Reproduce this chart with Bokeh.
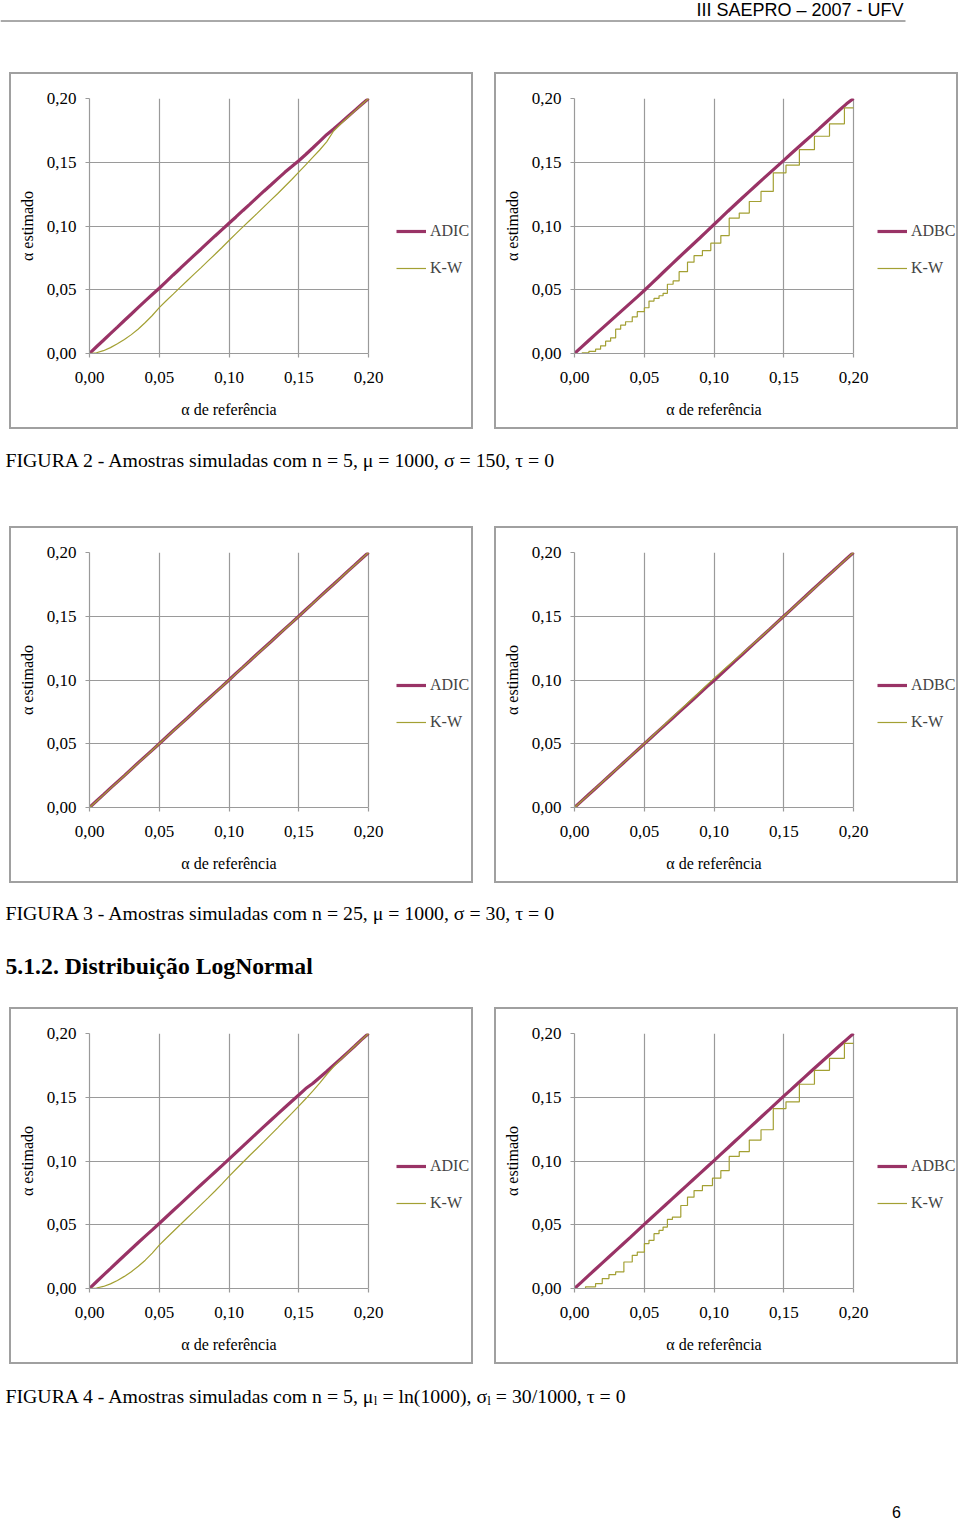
import glob
from bokeh.plotting import figure
from bokeh.models import (Range1d, FixedTicker, CustomJSTickFormatter, Legend,
                          LegendItem, Label, Spacer)
from bokeh.layouts import column, row
from bokeh.embed import file_html
from bokeh.resources import INLINE

# ---------------- data ----------------
TICKS = [0.00, 0.05, 0.10, 0.15, 0.20]

alpha_ref = [0.000, 0.005, 0.010, 0.015, 0.020, 0.025, 0.030, 0.035, 0.040, 0.045,
             0.050, 0.055, 0.060, 0.065, 0.070, 0.075, 0.080, 0.085, 0.090, 0.095,
             0.100, 0.105, 0.110, 0.115, 0.120, 0.125, 0.130, 0.135, 0.140, 0.145,
             0.150, 0.155, 0.160, 0.165, 0.170, 0.175, 0.180, 0.185, 0.190, 0.195,
             0.200]

# FIGURA 2 (n = 5, normal)
fig2_adic = [0.0000, 0.0053, 0.0104, 0.0156, 0.0207, 0.0259, 0.0310, 0.0362, 0.0413, 0.0463,
             0.0512, 0.0564, 0.0616, 0.0667, 0.0719, 0.0770, 0.0820, 0.0871, 0.0922, 0.0972,
             0.1022, 0.1071, 0.1122, 0.1172, 0.1223, 0.1273, 0.1322, 0.1372, 0.1421, 0.1466,
             0.1512, 0.1561, 0.1612, 0.1664, 0.1716, 0.1761, 0.1809, 0.1857, 0.1905, 0.1953,
             0.2000]
fig2_kw_a = [0.0000, 0.0006, 0.0022, 0.0046, 0.0076, 0.0110, 0.0148, 0.0192, 0.0243, 0.0298,
             0.0360, 0.0414, 0.0466, 0.0519, 0.0571, 0.0623, 0.0674, 0.0726, 0.0778, 0.0831,
             0.0886, 0.0940, 0.0993, 0.1045, 0.1097, 0.1150, 0.1203, 0.1255, 0.1310, 0.1365,
             0.1422, 0.1480, 0.1538, 0.1596, 0.1660, 0.1745, 0.1800, 0.1851, 0.1901, 0.1951,
             0.2000]
fig2_adbc = [0.0000, 0.0050, 0.0100, 0.0150, 0.0199, 0.0248, 0.0297, 0.0346, 0.0395, 0.0444,
             0.0494, 0.0546, 0.0598, 0.0651, 0.0703, 0.0755, 0.0806, 0.0857, 0.0908, 0.0960,
             0.1012, 0.1064, 0.1116, 0.1167, 0.1218, 0.1268, 0.1318, 0.1368, 0.1417, 0.1466,
             0.1515, 0.1565, 0.1614, 0.1663, 0.1711, 0.1760, 0.1810, 0.1860, 0.1910, 0.1958,
             0.2000]
fig2_kw_b_x = [0.0000, 0.0055, 0.0103, 0.0151, 0.0187, 0.0223, 0.0259, 0.0295, 0.0331, 0.0366,
               0.0414, 0.0450, 0.0501, 0.0534, 0.0570, 0.0606, 0.0635, 0.0666, 0.0707, 0.0750,
               0.0810, 0.0857, 0.0917, 0.0977, 0.1049, 0.1109, 0.1181, 0.1253, 0.1337, 0.1425,
               0.1516, 0.1612, 0.1720, 0.1828, 0.1935, 0.2000]
fig2_kw_b_y = [0.0000, 0.0005, 0.0016, 0.0034, 0.0060, 0.0097, 0.0123, 0.0191, 0.0223, 0.0249,
               0.0288, 0.0328, 0.0359, 0.0411, 0.0432, 0.0453, 0.0472, 0.0543, 0.0569, 0.0642,
               0.0716, 0.0768, 0.0807, 0.0865, 0.0925, 0.1061, 0.1101, 0.1192, 0.1271, 0.1416,
               0.1477, 0.1599, 0.1704, 0.1801, 0.1927, 0.1927]

# FIGURA 3 (n = 25, normal)
fig3_adic = [0.0000, 0.0051, 0.0101, 0.0152, 0.0201, 0.0250, 0.0301, 0.0352, 0.0401, 0.0450,
             0.0500, 0.0551, 0.0602, 0.0651, 0.0700, 0.0751, 0.0802, 0.0851, 0.0901, 0.0950,
             0.1000, 0.1052, 0.1101, 0.1151, 0.1202, 0.1251, 0.1300, 0.1351, 0.1401, 0.1450,
             0.1500, 0.1551, 0.1601, 0.1652, 0.1702, 0.1751, 0.1801, 0.1852, 0.1901, 0.1951,
             0.2000]
fig3_kw_a = [0.0000, 0.0049, 0.0099, 0.0150, 0.0199, 0.0249, 0.0300, 0.0350, 0.0399, 0.0449,
             0.0500, 0.0550, 0.0600, 0.0649, 0.0699, 0.0750, 0.0800, 0.0850, 0.0899, 0.0949,
             0.0999, 0.1050, 0.1100, 0.1150, 0.1200, 0.1249, 0.1299, 0.1350, 0.1400, 0.1449,
             0.1499, 0.1550, 0.1600, 0.1650, 0.1701, 0.1750, 0.1800, 0.1851, 0.1900, 0.1950,
             0.2000]
fig3_adbc = [0.0000, 0.0050, 0.0100, 0.0149, 0.0199, 0.0249, 0.0299, 0.0349, 0.0399, 0.0449,
             0.0499, 0.0549, 0.0599, 0.0648, 0.0698, 0.0748, 0.0797, 0.0847, 0.0897, 0.0948,
             0.0996, 0.1046, 0.1097, 0.1148, 0.1198, 0.1249, 0.1299, 0.1349, 0.1399, 0.1450,
             0.1500, 0.1550, 0.1601, 0.1651, 0.1702, 0.1752, 0.1802, 0.1851, 0.1901, 0.1951,
             0.2000]
fig3_kw_b = [0.0000, 0.0049, 0.0099, 0.0150, 0.0200, 0.0250, 0.0300, 0.0350, 0.0400, 0.0450,
             0.0501, 0.0551, 0.0603, 0.0655, 0.0706, 0.0758, 0.0808, 0.0859, 0.0910, 0.0962,
             0.1013, 0.1062, 0.1110, 0.1158, 0.1206, 0.1254, 0.1302, 0.1351, 0.1401, 0.1450,
             0.1500, 0.1550, 0.1600, 0.1650, 0.1700, 0.1750, 0.1800, 0.1850, 0.1900, 0.1950,
             0.2000]

# FIGURA 4 (n = 5, lognormal)
fig4_adic = [0.0000, 0.0053, 0.0105, 0.0156, 0.0208, 0.0259, 0.0310, 0.0361, 0.0411, 0.0460,
             0.0510, 0.0561, 0.0612, 0.0662, 0.0713, 0.0764, 0.0814, 0.0864, 0.0914, 0.0964,
             0.1015, 0.1066, 0.1117, 0.1168, 0.1219, 0.1270, 0.1320, 0.1370, 0.1420, 0.1469,
             0.1518, 0.1568, 0.1608, 0.1655, 0.1702, 0.1752, 0.1800, 0.1850, 0.1900, 0.1952,
             0.2000]
fig4_kw_a = [0.0000, 0.0004, 0.0016, 0.0036, 0.0063, 0.0095, 0.0132, 0.0174, 0.0222, 0.0278,
             0.0340, 0.0394, 0.0447, 0.0500, 0.0553, 0.0605, 0.0658, 0.0711, 0.0765, 0.0820,
             0.0880, 0.0935, 0.0990, 0.1045, 0.1098, 0.1152, 0.1207, 0.1262, 0.1318, 0.1373,
             0.1430, 0.1488, 0.1548, 0.1610, 0.1678, 0.1740, 0.1795, 0.1848, 0.1900, 0.1950,
             0.2000]
fig4_adbc = [0.0000, 0.0050, 0.0101, 0.0151, 0.0201, 0.0251, 0.0301, 0.0351, 0.0401, 0.0452,
             0.0503, 0.0553, 0.0603, 0.0653, 0.0703, 0.0753, 0.0803, 0.0853, 0.0903, 0.0953,
             0.1003, 0.1054, 0.1104, 0.1155, 0.1205, 0.1256, 0.1306, 0.1357, 0.1407, 0.1458,
             0.1509, 0.1558, 0.1608, 0.1658, 0.1708, 0.1757, 0.1806, 0.1855, 0.1904, 0.1952,
             0.2000]
fig4_kw_b_x = [0.0000, 0.0079, 0.0151, 0.0199, 0.0247, 0.0295, 0.0354, 0.0414, 0.0450, 0.0501,
               0.0534, 0.0570, 0.0606, 0.0635, 0.0666, 0.0702, 0.0762, 0.0810, 0.0857, 0.0917,
               0.0989, 0.1049, 0.1109, 0.1181, 0.1253, 0.1337, 0.1425, 0.1516, 0.1612, 0.1720,
               0.1828, 0.1935, 0.2000]
fig4_kw_b_y = [0.0000, 0.0013, 0.0039, 0.0078, 0.0109, 0.0130, 0.0208, 0.0260, 0.0286, 0.0352,
               0.0378, 0.0430, 0.0456, 0.0482, 0.0542, 0.0560, 0.0651, 0.0716, 0.0768, 0.0807,
               0.0865, 0.0924, 0.1036, 0.1073, 0.1164, 0.1245, 0.1411, 0.1464, 0.1602, 0.1711,
               0.1805, 0.1922, 0.1922]

# ---------------- style ----------------
SERIF = "Liberation Serif"
SANS = "Liberation Sans"
GRID = "#9a9a9a"
BOXC = "#a0a0a0"
PURPLE = "#993366"
OLIVE = "#a3a033"
XTITLE = "α de referência"

BOX_W, BOX_H, BW = 464, 357, 2
FIG_W, INNER_H = BOX_W - 2 * BW, BOX_H - 2 * BW
FRAME_L, FRAME_T, FRAME_W, FRAME_H = 80 - BW, 26 - BW, 279, 255
WIDE = FIG_W - FRAME_L             # frame runs to the right edge (room for legend)
CHART_H = 320                      # plot part; the rest holds the x-axis title
XLAB_H = INNER_H - CHART_H
XLAB_CY = 335 - CHART_H


def text_w(s, size, fname="LiberationSerif-Regular.ttf"):
    try:
        from PIL import ImageFont
        hits = glob.glob("/usr/share/fonts/**/" + fname, recursive=True)
        f = ImageFont.truetype(hits[0], size)
        return float(f.getlength(s))
    except Exception:
        return 0.45 * size * len(s)


def band(w, h, left=0):
    p = figure(width=w, height=h, output_backend="svg", toolbar_location=None,
               x_range=Range1d(0, w - left), y_range=Range1d(h, 0),
               x_axis_location=None, y_axis_location=None, min_border=0,
               min_border_left=left, outline_line_color=None,
               background_fill_color="white", border_fill_color="white")
    p.grid.visible = False
    return p


def lab(p, x, y, text, size="19.8px", font=SERIF, align="left", style="normal",
        baseline="middle"):
    p.add_layout(Label(x=x, y=y, text=text, text_font=font, text_font_size=size,
                       text_align=align, text_font_style=style,
                       text_baseline=baseline, text_color="black"))


def chart(main_y, main_name, kw_x, kw_y, kw_step, legend_x):
    p = figure(width=FIG_W, height=CHART_H, output_backend="svg", toolbar_location=None,
               x_range=Range1d(0, 0.2 * WIDE / FRAME_W), y_range=Range1d(0, 0.2),
               min_border_left=FRAME_L, min_border_right=0, min_border_top=FRAME_T,
               min_border_bottom=CHART_H - FRAME_T - FRAME_H,
               background_fill_color="white", border_fill_color="white",
               outline_line_color=None)
    ticker = FixedTicker(ticks=TICKS)
    fmt = CustomJSTickFormatter(code="return tick.toFixed(2).replace('.', ',');")
    for ax in (p.xaxis[0], p.yaxis[0]):
        ax.ticker = ticker
        ax.formatter = fmt
        ax.bounds = (0, 0.2)
        ax.axis_line_color = GRID
        ax.axis_line_width = 1.2
        ax.major_tick_line_color = GRID
        ax.major_tick_line_width = 1.2
        ax.major_tick_in = 0
        ax.major_tick_out = 4
        ax.minor_tick_line_color = None
        ax.major_label_text_font = SERIF
        ax.major_label_text_font_size = "17px"
        ax.major_label_text_color = "black"
        ax.axis_label_text_font = SERIF
        ax.axis_label_text_font_size = "16px"
        ax.axis_label_text_font_style = "normal"
        ax.axis_label_text_color = "black"
    p.yaxis.axis_label = "α estimado"
    p.xaxis.major_label_standoff = 14
    p.yaxis.major_label_standoff = 9
    p.yaxis.axis_label_standoff = 8
    p.xgrid.ticker = ticker
    p.ygrid.ticker = ticker
    p.grid.grid_line_color = GRID
    p.grid.grid_line_width = 1.2
    p.xgrid.bounds = (0, 0.2)
    p.ygrid.bounds = (0, 0.2)
    try:
        p.ygrid[0].cross_bounds = (0, 0.2)
        p.xgrid[0].cross_bounds = (0, 0.2)
    except Exception:
        pass

    r1 = p.line(alpha_ref, main_y, line_color=PURPLE, line_width=3.2)
    if kw_step:
        r2 = p.step(kw_x, kw_y, mode="after", line_color=OLIVE, line_width=1.2)
    else:
        r2 = p.line(kw_x, kw_y, line_color=OLIVE, line_width=1.2)

    legend = Legend(items=[LegendItem(label=main_name, renderers=[r1]),
                           LegendItem(label="K-W", renderers=[r2])],
                    location=(legend_x, 76), orientation="vertical",
                    border_line_color=None, background_fill_alpha=0,
                    padding=0, margin=0, spacing=19, glyph_width=30,
                    glyph_height=18, label_height=18, label_standoff=4,
                    label_text_font=SERIF, label_text_font_size="16px")
    p.add_layout(legend)

    # x-axis title band: its frame starts at the same left edge as the plot frame
    xlab = band(FIG_W, XLAB_H, left=FRAME_L)
    lab(xlab, FRAME_W / 2, XLAB_CY, XTITLE, size="16px", align="center")
    return column(p, xlab)


def boxed(inner):
    def bar(w, h):
        return Spacer(width=w, height=h, styles={"background-color": BOXC})
    mid = row(bar(BW, INNER_H), inner, bar(BW, INNER_H))
    return column(bar(BOX_W, BW), mid, bar(BOX_W, BW))


# header
head = band(960, 72)
head.segment(x0=[0], y0=[20.5], x1=[905], y1=[20.5], line_color="#555555", line_width=1)
lab(head, 903, 9, "III SAEPRO – 2007 - UFV", size="18px", font=SANS, align="right")


def chart_row(a, b):
    return row(Spacer(width=9, height=BOX_H), boxed(a), Spacer(width=21, height=BOX_H),
               boxed(b))


row1 = chart_row(chart(fig2_adic, "ADIC", alpha_ref, fig2_kw_a, False, 307),
                 chart(fig2_adbc, "ADBC", fig2_kw_b_x, fig2_kw_b_y, True, 303))
cap1 = band(960, 97)
lab(cap1, 5, 30, "FIGURA 2 - Amostras simuladas com n = 5, μ = 1000, σ = 150, τ = 0")

row2 = chart_row(chart(fig3_adic, "ADIC", alpha_ref, fig3_kw_a, False, 307),
                 chart(fig3_adbc, "ADBC", alpha_ref, fig3_kw_b, False, 303))
cap2 = band(960, 124)
lab(cap2, 5, 29, "FIGURA 3 - Amostras simuladas com n = 25, μ = 1000, σ = 30, τ = 0")
lab(cap2, 5, 82, "5.1.2. Distribuição LogNormal", size="23.7px", style="bold")

row3 = chart_row(chart(fig4_adic, "ADIC", alpha_ref, fig4_kw_a, False, 307),
                 chart(fig4_adbc, "ADBC", fig4_kw_b_x, fig4_kw_b_y, True, 303))
cap3 = band(960, 157)
mid_y = 31
pa = "FIGURA 4 - Amostras simuladas com n = 5, μ"
pb = "= ln(1000), σ"
pc = "= 30/1000, τ = 0"
xa = 5
xs1 = xa + text_w(pa, 19.8)
xb = xs1 + text_w("l", 13) + text_w(" ", 19.8)
xs2 = xb + text_w(pb, 19.8)
xc = xs2 + text_w("l", 13) + text_w(" ", 19.8)
lab(cap3, xa, mid_y, pa)
lab(cap3, xs1, mid_y + 5, "l", size="13px")
lab(cap3, xb, mid_y, pb)
lab(cap3, xs2, mid_y + 5, "l", size="13px")
lab(cap3, xc, mid_y, pc)
lab(cap3, 896, 147, "6", size="16px", font=SANS, align="center")

page = column(head, row1, cap1, row2, cap2, row3, cap3)

with open("out.html", "w") as f:
    f.write(file_html(page, INLINE))
